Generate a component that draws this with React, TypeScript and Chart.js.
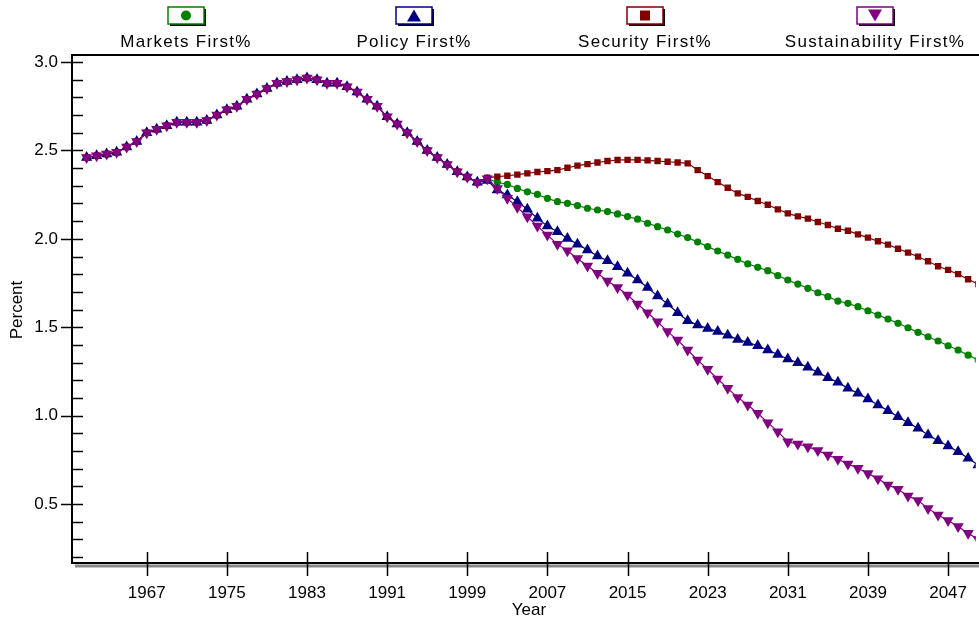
import React, { useEffect, useRef } from "react";
import { Chart, registerables } from "chart.js";
Chart.register(...registerables);

const historyYears = { start: 1961 };
const history = [2.46,2.47,2.48,2.49,2.52,2.55,2.60,2.62,2.64,2.66,2.66,2.66,2.67,2.70,2.73,2.75,2.79,2.82,2.85,2.88,2.89,2.90,2.91,2.90,2.88,2.88,2.86,2.83,2.79,2.75,2.69,2.65,2.60,2.55,2.50,2.46,2.42,2.38,2.35,2.32];
// 2001..2050
const marketsFirst = [2.34,2.32,2.308,2.285,2.266,2.251,2.229,2.210,2.201,2.188,2.173,2.163,2.154,2.141,2.126,2.111,2.088,2.069,2.050,2.027,2.007,1.982,1.956,1.931,1.908,1.884,1.858,1.839,1.820,1.792,1.767,1.744,1.720,1.695,1.673,1.648,1.635,1.616,1.593,1.569,1.546,1.522,1.497,1.471,1.446,1.422,1.395,1.371,1.342,1.315];
const policyFirst = [2.33,2.276,2.248,2.210,2.167,2.116,2.072,2.040,2.002,1.970,1.937,1.903,1.876,1.842,1.805,1.767,1.725,1.676,1.631,1.582,1.537,1.512,1.493,1.475,1.454,1.431,1.414,1.395,1.371,1.346,1.320,1.299,1.273,1.245,1.214,1.188,1.154,1.126,1.094,1.060,1.028,0.994,0.960,0.928,0.890,0.858,0.828,0.796,0.758,0.721];
const securityFirst = [2.346,2.352,2.357,2.363,2.370,2.378,2.383,2.389,2.402,2.414,2.423,2.432,2.440,2.446,2.447,2.447,2.444,2.440,2.436,2.432,2.427,2.389,2.355,2.321,2.289,2.257,2.237,2.214,2.193,2.167,2.144,2.127,2.114,2.095,2.078,2.057,2.046,2.025,2.007,1.986,1.967,1.944,1.922,1.899,1.873,1.845,1.824,1.800,1.771,1.744];
const sustainabilityFirst = [2.34,2.285,2.229,2.178,2.125,2.072,2.021,1.970,1.933,1.889,1.846,1.805,1.761,1.724,1.682,1.631,1.582,1.531,1.475,1.427,1.371,1.314,1.262,1.207,1.154,1.103,1.060,1.013,0.960,0.909,0.852,0.839,0.824,0.802,0.777,0.753,0.726,0.702,0.673,0.643,0.607,0.583,0.545,0.519,0.475,0.438,0.406,0.372,0.334,0.30];
const xTickYears = [1967,1975,1983,1991,1999,2007,2015,2023,2031,2039,2047];
const yTickValues = [0.5,1.0,1.5,2.0,2.5,3.0];
const seriesNames = ["Markets First%","Policy First%","Security First%","Sustainability First%"];

const FONT = "'Liberation Sans', Arial, sans-serif";

function toPoints(future: number[]) {
  const all = history.concat(future);
  return all.map((v, i) => ({ x: historyYears.start + i, y: v }));
}

const framePlugin = {
  id: "frame",
  afterDraw(chart: any) {
    const ctx = chart.ctx;
    const { left, top, bottom } = chart.chartArea;
    const right = chart.width;
    const xs = chart.scales.x, ys = chart.scales.y;
    ctx.save();
    ctx.strokeStyle = "#888";
    ctx.lineWidth = 3;
    ctx.beginPath(); ctx.moveTo(left + 3, bottom + 3); ctx.lineTo(right, bottom + 3); ctx.stroke();
    ctx.strokeStyle = "#000";
    ctx.lineWidth = 2;
    ctx.beginPath();
    ctx.moveTo(right, top); ctx.lineTo(left, top); ctx.lineTo(left, bottom); ctx.lineTo(right, bottom);
    ctx.stroke();
    ctx.lineWidth = 1.5;
    ctx.beginPath();
    for (let v = 0.2; v <= 3.001; v += 0.1) {
      const y = Math.round(ys.getPixelForValue(v)) + 0.5;
      const major = Math.abs(v * 2 - Math.round(v * 2)) < 1e-6;
      ctx.moveTo(major ? left - 11 : left, y); ctx.lineTo(left + 11, y);
    }
    for (const yr of xTickYears) {
      const x = Math.round(xs.getPixelForValue(yr)) + 0.5;
      ctx.moveTo(x, bottom - 11); ctx.lineTo(x, bottom + 13);
    }
    ctx.stroke();
    ctx.fillStyle = "#000";
    ctx.font = `17px ${FONT}`;
    ctx.textAlign = "center";
    ctx.textBaseline = "alphabetic";
    ctx.fillText("Year", 529, 615);
    ctx.save();
    ctx.translate(22, 310);
    ctx.rotate(-Math.PI / 2);
    ctx.fillText("Percent", 0, 0);
    ctx.restore();
    const centers = [186, 414, 645, 875];
    chart.data.datasets.forEach((ds: any) => {
      const idx = seriesNames.indexOf(ds.label);
      const cx = centers[idx];
      const bx = cx - 18, by = 7, bw = 36, bh = 17;
      ctx.fillStyle = "#000";
      ctx.fillRect(bx + 2, by + 2, bw, bh);
      ctx.fillStyle = "#fff";
      ctx.fillRect(bx, by, bw, bh);
      ctx.strokeStyle = ds.borderColor;
      ctx.lineWidth = 1.5;
      ctx.strokeRect(bx, by, bw, bh);
      ctx.fillStyle = ds.borderColor;
      const my = by + bh / 2;
      ctx.beginPath();
      if (ds.pointStyle === "circle") ctx.arc(cx, my, 5, 0, Math.PI * 2);
      else if (ds.pointStyle === "rect") ctx.rect(cx - 5, my - 5, 10, 10);
      else if (ds.pointRotation === 180) { ctx.moveTo(cx - 7, my - 6); ctx.lineTo(cx + 7, my - 6); ctx.lineTo(cx, my + 6); }
      else { ctx.moveTo(cx - 7, my + 6); ctx.lineTo(cx + 7, my + 6); ctx.lineTo(cx, my - 6); }
      ctx.fill();
      ctx.fillStyle = "#000";
      ctx.font = `17px ${FONT}`;
      (ctx as any).letterSpacing = "1.3px";
      ctx.textAlign = "center";
      ctx.fillText(ds.label, cx, 47);
      (ctx as any).letterSpacing = "0px";
    });
    ctx.restore();
  },
};

export default function App() {
  const ref = useRef<HTMLCanvasElement>(null);
  useEffect(() => {
    const mk = (label: string, data: number[], color: string, style: string, radius: number, order: number, rot = 0) => ({
      label, data: toPoints(data), borderColor: color, backgroundColor: color,
      pointStyle: style, pointRadius: radius, pointRotation: rot, pointBorderWidth: 0,
      borderWidth: 1.2, order, showLine: true, tension: 0,
    });
    const chart = new Chart(ref.current!, {
      type: "scatter",
      data: {
        datasets: [
          mk(seriesNames[0], marketsFirst, "#008000", "circle", 3.6, 3),
          mk(seriesNames[1], policyFirst, "#000080", "triangle", 6.5, 2),
          mk(seriesNames[2], securityFirst, "#800000", "rect", 4.5, 1),
          mk(seriesNames[3], sustainabilityFirst, "#800080", "triangle", 6.5, 0, 180),
        ] as any,
      },
      options: {
        animation: false,
        responsive: false,
        layout: { padding: { top: 55, right: 0, left: 0, bottom: 0 }, autoPadding: false },
        plugins: { legend: { display: false }, tooltip: { enabled: false } },
        scales: {
          x: {
            type: "linear", min: 1959.54, max: 2049.76,
            grid: { display: false }, border: { display: false },
            afterBuildTicks: (s: any) => { s.ticks = xTickYears.map((v) => ({ value: v })); },
            afterFit: (s: any) => { s.height = 61; },
            ticks: { padding: 12, color: "#000", font: { size: 17, family: FONT }, callback: (v: any) => String(v) },
          },
          y: {
            min: 0.166, max: 3.04,
            grid: { display: false }, border: { display: false },
            afterBuildTicks: (s: any) => { s.ticks = yTickValues.map((v) => ({ value: v })); },
            afterFit: (s: any) => { s.width = 72; },
            ticks: { padding: 6, color: "#000", font: { size: 17, family: FONT }, callback: (v: any) => Number(v).toFixed(1) },
          },
        },
      },
      plugins: [framePlugin],
    });
    return () => chart.destroy();
  }, []);
  return (
    <div style={{ position: "absolute", left: 0, top: 0, width: 979, height: 624, background: "#fff" }}>
      <canvas ref={ref} width={979} height={624} style={{ width: 979, height: 624 }} />
    </div>
  );
}
